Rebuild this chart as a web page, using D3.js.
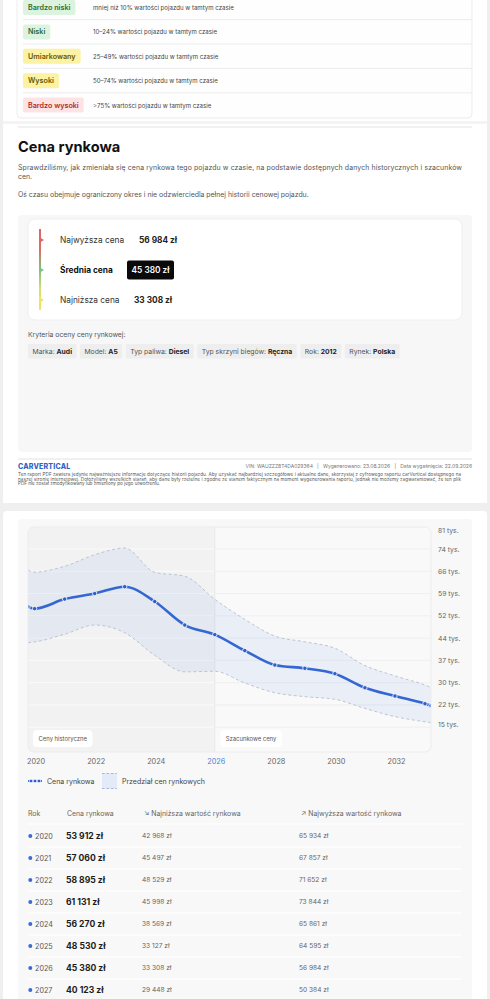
<!DOCTYPE html>
<html><head><meta charset="utf-8">
<script src="https://cdn.jsdelivr.net/npm/d3@7"></script>
<style>
html,body{margin:0;padding:0;background:#efefef;overflow:hidden;}
svg{display:block;font-family:Inter,"Noto Sans",sans-serif;}
</style></head><body>
<svg id="c" width="490" height="999"></svg>
<script>
// ---------- DATA ----------
const riskLabels = ["Bardzo niski", "Niski", "Umiarkowany", "Wysoki", "Bardzo wysoki"];
const riskDesc = [
  "mniej niż 10% wartości pojazdu w tamtym czasie",
  "10–24% wartości pojazdu w tamtym czasie",
  "25–49% wartości pojazdu w tamtym czasie",
  "50–74% wartości pojazdu w tamtym czasie",
  ">75% wartości pojazdu w tamtym czasie"
];
const riskLevel = ["green", "green", "yellow", "yellow", "red"];

const summaryLabels = ["Najwyższa cena", "Średnia cena", "Najniższa cena"];
const summaryValues = [56984, 45380, 33308];

const criteriaKeys = ["Marka:", "Model:", "Typ paliwa:", "Typ skrzyni biegów:", "Rok:", "Rynek:"];
const criteriaVals = ["Audi", "A5", "Diesel", "Ręczna", "2012", "Polska"];

const years  = [2020, 2021, 2022, 2023, 2024, 2025, 2026, 2027, 2028, 2029, 2030, 2031, 2032, 2033];
const price  = [53912, 57060, 58895, 61131, 56270, 48530, 45380, 40123, 35380, 34290, 32530, 27900, 25180, 22650];
const lowVal = [42968, 45497, 48529, 45998, 38569, 33127, 33308, 29448, 26270, 24960, 24100, 21100, 18400, 16700];
const highVal= [65934, 67857, 71652, 73844, 65861, 64595, 56984, 50384, 44900, 43000, 40900, 35200, 31800, 28800];
// values where the curves meet the left / right edge of the plot
const edgeYears = [2019.78, 2033.2];
const edgePrice = [54560, 22000];
const edgeLow   = [42700, 16400];
const edgeHigh  = [66600, 28050];

const yTicks = [14900, 22230, 29560, 36890, 44220, 51550, 58880, 66210, 73540, 80870];
const xTicks = [2020, 2022, 2024, 2026, 2028, 2030, 2032];
const forecastStart = 2026;
const tableCount = 8;

// ---------- HELPERS ----------
const svg = d3.select("#c");
const fmt = v => d3.format(",")(v).replace(/,/g, " ") + " zł";
function txt(g, x, y, s, size, color, weight, anchor) {
  return g.append("text").attr("x", x).attr("y", y).attr("dominant-baseline", "central")
    .attr("font-size", size).attr("fill", color).attr("font-weight", weight || 400)
    .attr("text-anchor", anchor || "start").text(s);
}
const defs = svg.append("defs");

// ---------- PAGE BACKGROUND / CARDS ----------
svg.append("rect").attr("width", 490).attr("height", 999).attr("fill", "#efefef");
svg.append("rect").attr("x", 3).attr("y", -10).attr("width", 484).attr("height", 513).attr("fill", "#fff");
svg.append("rect").attr("x", 3).attr("y", 511).attr("width", 484).attr("height", 520).attr("rx", 4).attr("fill", "#fff");

// ---------- TOP: risk legend ----------
const topG = svg.append("g");
topG.append("rect").attr("x", 17).attr("y", -10).attr("width", 455).attr("height", 128).attr("rx", 4)
  .attr("fill", "#fefefe").attr("stroke", "#ededed");
const chipStyle = {
  green:  {bg: "#dcf3df", fg: "#2d6b34"},
  yellow: {bg: "#fbf2a3", fg: "#6a5800"},
  red:    {bg: "#fde3e3", fg: "#b52a2a"}
};
const rowY = d3.scaleLinear().domain([0, 4]).range([7.5, 105]);
riskLabels.forEach((lab, i) => {
  const cy = rowY(i);
  const st = chipStyle[riskLevel[i]];
  const r = topG.append("rect").attr("x", 23).attr("y", cy - 7.5).attr("height", 15).attr("rx", 2).attr("fill", st.bg);
  const t = txt(topG, 28, cy, lab, 7.2, st.fg, 600);
  r.attr("width", t.node().getComputedTextLength() + 10);
  txt(topG, 93, cy, riskDesc[i], 6.1, "#444");
  if (i < 4) topG.append("line").attr("x1", 23).attr("x2", 472).attr("y1", cy + 12.2).attr("y2", cy + 12.2)
    .attr("stroke", "#ececec");
});
svg.append("rect").attr("x", 3).attr("y", 121).attr("width", 484).attr("height", 3).attr("fill", "#f4f4f4");
svg.append("line").attr("x1", 18).attr("x2", 472).attr("y1", 127).attr("y2", 127).attr("stroke", "#e3e3e3");

// ---------- Cena rynkowa section ----------
const sec = svg.append("g");
txt(sec, 18, 147, "Cena rynkowa", 14.6, "#111", 700);
txt(sec, 18, 167.7, "Sprawdziliśmy, jak zmieniała się cena rynkowa tego pojazdu w czasie, na podstawie dostępnych danych historycznych i szacunków", 6.9, "#555")
  .attr("textLength", 444).attr("lengthAdjust", "spacing");
txt(sec, 18, 176.5, "cen.", 6.9, "#555");
txt(sec, 18, 194, "Oś czasu obejmuje ograniczony okres i nie odzwierciedla pełnej historii cenowej pojazdu.", 6.9, "#555");

sec.append("rect").attr("x", 18).attr("y", 215).attr("width", 454).attr("height", 237).attr("rx", 4).attr("fill", "#f7f7f7");
sec.append("rect").attr("x", 28).attr("y", 219).attr("width", 434).attr("height", 101).attr("rx", 7).attr("fill", "#fff")
  .attr("stroke", "#efefef");

const grad = defs.append("linearGradient").attr("id", "gbar").attr("x1", 0).attr("x2", 0).attr("y1", 0).attr("y2", 1);
[["0%", "#e26464"], ["22%", "#e06a66"], ["50%", "#7cc282"], ["75%", "#d9e06a"], ["100%", "#f3e55a"]].forEach(s =>
  grad.append("stop").attr("offset", s[0]).attr("stop-color", s[1]));
sec.append("rect").attr("x", 39).attr("y", 229).attr("width", 2).attr("height", 81).attr("fill", "url(#gbar)");
const markerColors = ["#e26464", "#7cc282", "#f0e45c"];
const sumY = d3.scaleLinear().domain([0, 2]).range([240, 300]);
summaryLabels.forEach((lab, i) => {
  const cy = sumY(i);
  sec.append("path").attr("d", `M39,${cy - 3}L44,${cy}L39,${cy + 3}Z`).attr("fill", markerColors[i]);
  txt(sec, 60, cy, lab, 8.3, i === 1 ? "#111" : "#333", i === 1 ? 700 : 400);
  if (i === 1) {
    sec.append("rect").attr("x", 127).attr("y", cy - 9.5).attr("width", 47).attr("height", 19).attr("rx", 2).attr("fill", "#0a0a0a");
    txt(sec, 150.5, cy, fmt(summaryValues[i]), 8.3, "#fff", 600, "middle");
  } else {
    txt(sec, i === 0 ? 139 : 134, cy, fmt(summaryValues[i]), 8.3, "#222", 700);
  }
});

txt(sec, 28, 334, "Kryteria oceny ceny rynkowej:", 6.8, "#555");
let cx = 28;
criteriaKeys.forEach((k, i) => {
  const g = sec.append("g");
  const r = g.append("rect").attr("x", cx).attr("y", 344).attr("height", 14.5).attr("rx", 1.5).attr("fill", "#eeeeee");
  const t = g.append("text").attr("x", cx + 4.5).attr("y", 351.3).attr("dominant-baseline", "central").attr("font-size", 6.8);
  t.append("tspan").attr("fill", "#555").text(k + " ");
  t.append("tspan").attr("fill", "#222").attr("font-weight", 700).text(criteriaVals[i]);
  const w = t.node().getComputedTextLength() + 9;
  r.attr("width", w);
  cx += w + 3.5;
});

// ---------- footer ----------
const ft = svg.append("g");
ft.append("line").attr("x1", 18).attr("x2", 472).attr("y1", 459).attr("y2", 459).attr("stroke", "#e2e2e2");
txt(ft, 18, 466, "CARVERTICAL", 7, "#2f63c6", 800).attr("letter-spacing", 0.2);
txt(ft, 472, 466, "VIN: WAUZZZ8T4DA029364   |   Wygenerowano: 23.08.2026   |   Data wygaśnięcia: 22.09.2026", 5, "#777", 400, "end")
  .attr("xml:space", "preserve");
const disc = [
  "Ten raport PDF zawiera jedynie najważniejsze informacje dotyczące historii pojazdu. Aby uzyskać najbardziej szczegółowe i aktualne dane, skorzystaj z cyfrowego raportu carVertical dostępnego na",
  "naszej stronie internetowej. Dołożyliśmy wszelkich starań, aby dane były rzetelne i zgodne ze stanem faktycznym na moment wygenerowania raportu, jednak nie możemy zagwarantować, że ten plik",
  "PDF nie został zmodyfikowany lub zmieniony po jego utworzeniu."
];
disc.forEach((s, i) => {
  const t = txt(ft, 18, 474.6 + i * 4.6, s, 4.6, "#555");
  if (i < 2) t.attr("textLength", 443).attr("lengthAdjust", "spacing");
});

// ---------- CHART ----------
svg.append("rect").attr("x", 18).attr("y", 519).attr("width", 454).attr("height", 500).attr("rx", 4).attr("fill", "#f8f8f8");

const X0 = 28, X1 = 431, Y0 = 527, Y1 = 752;
const x = d3.scaleLinear().domain([edgeYears[0], edgeYears[1]]).range([X0, X1]);
const y = d3.scaleLinear().domain([6760, 80780]).range([Y1, Y0]);
const xb = x(forecastStart);

const pts = [{t: edgeYears[0], p: edgePrice[0], lo: edgeLow[0], hi: edgeHigh[0]}]
  .concat(years.map((t, i) => ({t, p: price[i], lo: lowVal[i], hi: highVal[i]})))
  .concat([{t: edgeYears[1], p: edgePrice[1], lo: edgeLow[1], hi: edgeHigh[1]}]);

defs.append("clipPath").attr("id", "plotclip").append("rect")
  .attr("x", X0).attr("y", Y0).attr("width", X1 - X0).attr("height", Y1 - Y0).attr("rx", 6);

const ch = svg.append("g").attr("clip-path", "url(#plotclip)");
ch.append("rect").attr("x", X0).attr("y", Y0).attr("width", xb - X0).attr("height", Y1 - Y0).attr("fill", "#f2f2f3");
ch.append("rect").attr("x", xb).attr("y", Y0).attr("width", X1 - xb).attr("height", Y1 - Y0).attr("fill", "#f9f9fa");
yTicks.forEach(v => {
  ch.append("line").attr("x1", X0).attr("x2", xb).attr("y1", y(v)).attr("y2", y(v)).attr("stroke", "#fafafa");
  ch.append("line").attr("x1", xb).attr("x2", X1).attr("y1", y(v)).attr("y2", y(v)).attr("stroke", "#efeff1");
});
ch.append("line").attr("x1", xb).attr("x2", xb).attr("y1", Y0).attr("y2", Y1).attr("stroke", "#e9e9eb");

const curve = d3.curveMonotoneX;
ch.append("path").datum(pts)
  .attr("d", d3.area().x(d => x(d.t)).y0(d => y(d.lo)).y1(d => y(d.hi)).curve(curve))
  .attr("fill", "rgba(60,110,220,0.075)");
["lo", "hi"].forEach(k => ch.append("path").datum(pts)
  .attr("d", d3.line().x(d => x(d.t)).y(d => y(d[k])).curve(curve))
  .attr("fill", "none").attr("stroke", "#b7bfce").attr("stroke-width", 0.9).attr("stroke-dasharray", "3,2.5"));
ch.append("path").datum(pts)
  .attr("d", d3.line().x(d => x(d.t)).y(d => y(d.p)).curve(curve))
  .attr("fill", "none").attr("stroke", "#3567d2").attr("stroke-width", 2.6).attr("stroke-linecap", "round");
ch.selectAll("circle.pt").data(pts).join("circle").attr("class", "pt")
  .attr("cx", d => x(d.t)).attr("cy", d => y(d.p)).attr("r", 2.2)
  .attr("fill", "#2f5fc8").attr("stroke", "#fff").attr("stroke-width", 0.8);

svg.append("rect").attr("x", X0).attr("y", Y0).attr("width", X1 - X0).attr("height", Y1 - Y0).attr("rx", 6)
  .attr("fill", "none").attr("stroke", "#ececee");

[["Ceny historyczne", X0 + 5], ["Szacunkowe ceny", xb + 5.5]].forEach(([s, px]) => {
  const g = svg.append("g");
  const r = g.append("rect").attr("x", px).attr("y", 730).attr("height", 17).attr("rx", 4).attr("fill", "#fff");
  const t = txt(g, px + 5.5, 738.7, s, 5.9, "#555");
  r.attr("width", t.node().getComputedTextLength() + 11);
});

yTicks.forEach(v => {
  const yy = Math.max(530, Math.min(724, y(v)));
  txt(svg, 438, yy, Math.round(v / 1000) + " tys.", 6.8, "#666");
});
xTicks.forEach(t => {
  txt(svg, x(t) + 1.5, 761.3, String(t), 7.3, t === forecastStart ? "#4a7fd6" : "#666", 400, "middle");
});

const lg = svg.append("g");
lg.append("line").attr("x1", 28).attr("x2", 42).attr("y1", 781).attr("y2", 781).attr("stroke", "#3567d2").attr("stroke-width", 1.8);
[31, 35, 39].forEach(cxx => lg.append("circle").attr("cx", cxx).attr("cy", 781).attr("r", 1.7).attr("fill", "#2f5fc8")
  .attr("stroke", "#fff").attr("stroke-width", 0.6));
txt(lg, 47, 781, "Cena rynkowa", 7, "#444");
lg.append("rect").attr("x", 102).attr("y", 773).attr("width", 15).attr("height", 16).attr("fill", "#e4ebf8");
[773.5, 788.5].forEach(yy => lg.append("line").attr("x1", 102).attr("x2", 117).attr("y1", yy).attr("y2", yy)
  .attr("stroke", "#a8b8d8").attr("stroke-dasharray", "2.5,2"));
txt(lg, 122, 781, "Przedział cen rynkowych", 7, "#444");

// ---------- TABLE ----------
const tb = svg.append("g");
txt(tb, 28, 813.5, "Rok", 6.9, "#666");
txt(tb, 67, 813.5, "Cena rynkowa", 6.9, "#666");
txt(tb, 144, 813.5, "↘ Najniższa wartość rynkowa", 6.9, "#666");
txt(tb, 301, 813.5, "↗ Najwyższa wartość rynkowa", 6.9, "#666");
tb.append("line").attr("x1", 28).attr("x2", 462).attr("y1", 824).attr("y2", 824).attr("stroke", "#fff").attr("stroke-width", 1.2);
const rowScale = d3.scaleLinear().domain([0, 1]).range([836, 858]);
years.slice(0, tableCount).forEach((yr, i) => {
  const cy = rowScale(i);
  tb.append("circle").attr("cx", 30.3).attr("cy", cy).attr("r", 2).attr("fill", "#3a6ad4");
  txt(tb, 35, cy, String(yr), 7.2, "#555");
  txt(tb, 66, cy, fmt(price[i]), 8.6, "#1c1c1c", 700);
  txt(tb, 142, cy, fmt(lowVal[i]), 6.6, "#666");
  txt(tb, 299, cy, fmt(highVal[i]), 6.6, "#666");
  tb.append("line").attr("x1", 28).attr("x2", 462).attr("y1", cy + 11).attr("y2", cy + 11)
    .attr("stroke", "#fff").attr("stroke-width", 1.2);
});
</script>
</body></html>
